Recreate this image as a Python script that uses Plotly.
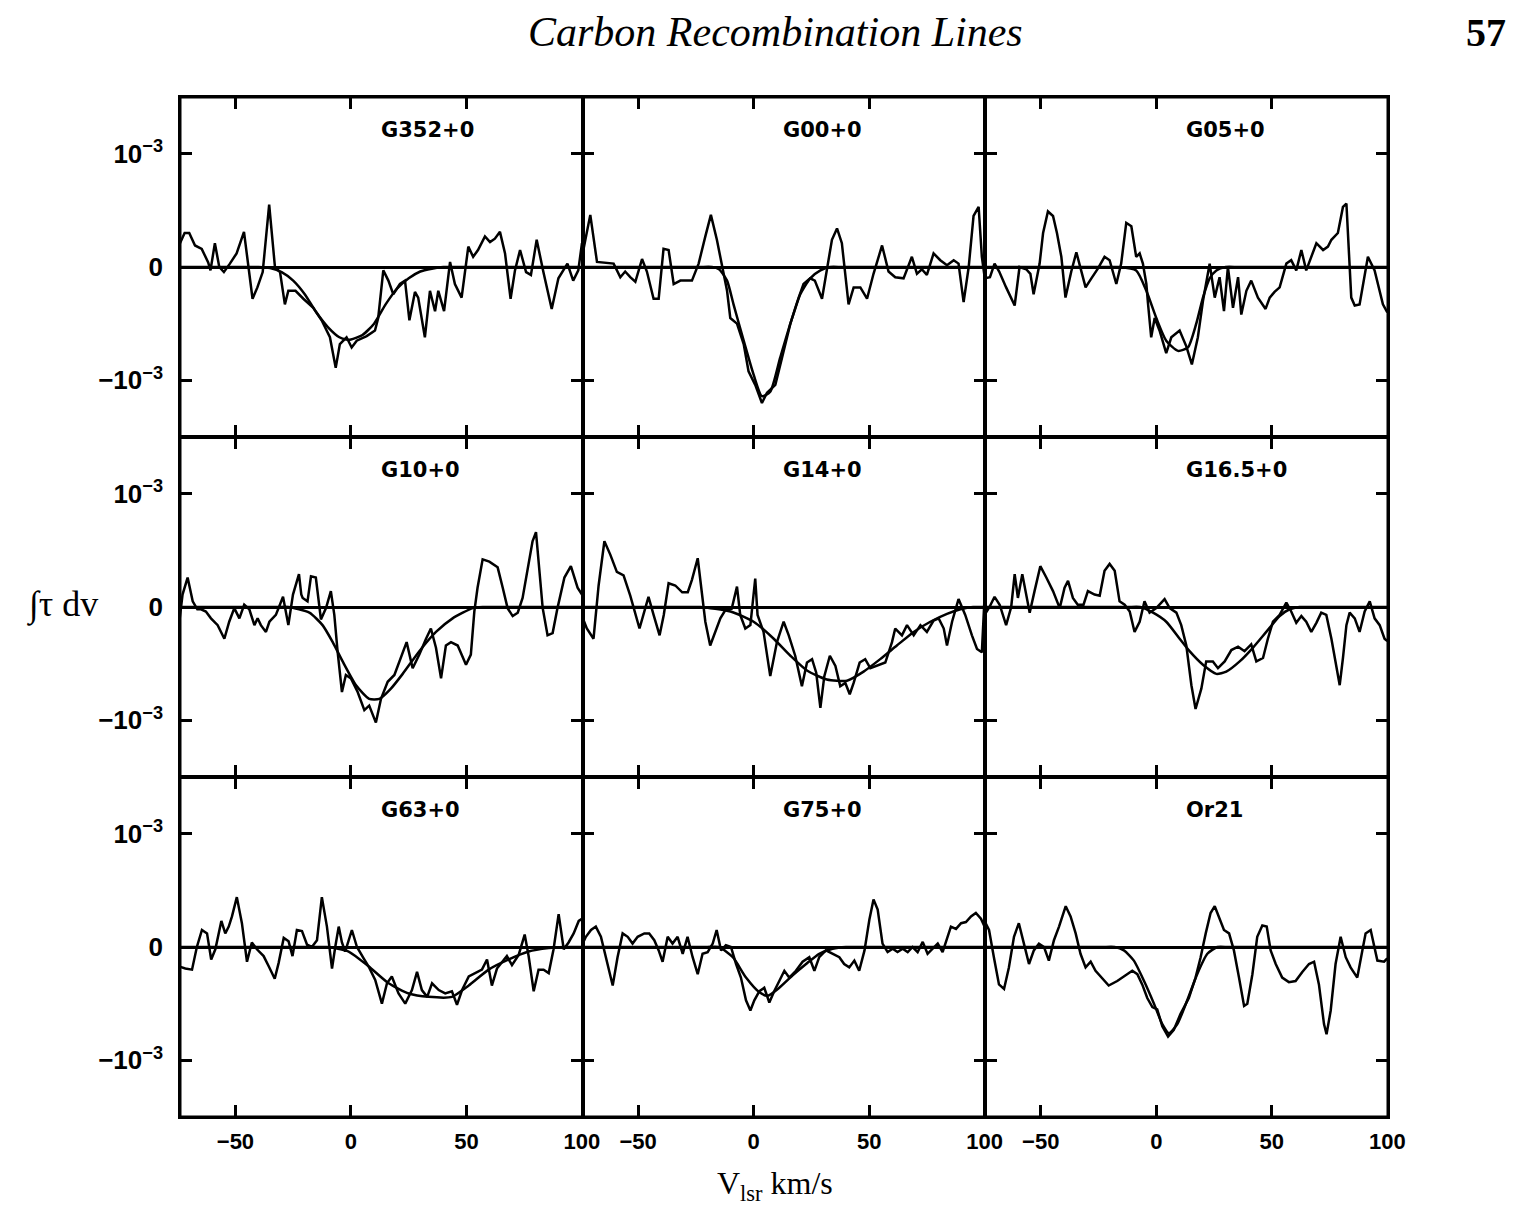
import plotly.graph_objects as go
from plotly.subplots import make_subplots

# ---------------- data (tau in units of 1e-3, velocity in km/s) ----------------
names = ["G352+0", "G00+0", "G05+0", "G10+0", "G14+0", "G16.5+0", "G63+0", "G75+0", "Or21"]

g352_v = [-74, -72, -70, -67.5, -64.6, -61.8, -60.8, -58.9, -57, -55, -52.4, -49.5, -46.3, -42.6, -40.5, -38.2, -35.4, -32.9, -30.7, -28.6, -27.1, -24, -20.6, -16.3, -12.7, -9.1, -6.6, -4.8, -1.9, 0.3, 2.5, 6.8, 10.4, 11.8, 14, 16.2, 18.3, 21.2, 23.4, 25.3, 27.7, 29.1, 32, 34.2, 36.4, 37.8, 40.3, 42.9, 45, 47.9, 50.8, 52.9, 55, 58, 60.2, 62.3, 64.5, 66.7, 69.1, 71, 73.2, 75.8, 77.9, 80.4, 83.3, 86.9, 89.8, 93.7, 96.2, 98.4, 100]
g352_tau = [0.21, 0.30, 0.30, 0.19, 0.16, 0.04, -0.03, 0.21, 0.0, -0.045, 0.03, 0.12, 0.31, -0.28, -0.18, -0.045, 0.55, 0.0, -0.045, -0.33, -0.21, -0.21, -0.28, -0.36, -0.47, -0.62, -0.89, -0.68, -0.62, -0.71, -0.65, -0.61, -0.56, -0.45, -0.03, -0.12, -0.24, -0.15, -0.12, -0.47, -0.22, -0.27, -0.62, -0.21, -0.39, -0.21, -0.39, 0.045, -0.15, -0.27, 0.18, 0.09, 0.15, 0.27, 0.22, 0.25, 0.31, 0.12, -0.28, -0.03, 0.15, -0.045, -0.07, 0.24, -0.045, -0.37, -0.10, 0.03, -0.12, -0.03, 0.21]
g352_fit_v = [-74, -50, -45, -40, -35, -30, -25, -20, -15, -10, -5, -2, 0, 5, 10, 15, 20, 25, 30, 35, 40, 45, 50, 100]
g352_fit = [0, 0, 0, 0, -0.01, -0.045, -0.12, -0.24, -0.40, -0.53, -0.62, -0.64, -0.64, -0.60, -0.50, -0.33, -0.19, -0.10, -0.04, -0.015, 0, 0, 0, 0]

g00_v = [-74, -70.7, -67.8, -64.9, -60.6, -57.7, -55.6, -53.4, -51.2, -48.3, -46.2, -43.3, -41.1, -39, -36.8, -34.6, -31.7, -26.7, -23.8, -20.9, -18.5, -15.9, -13.7, -11.5, -10.1, -7.2, -4.3, -2.2, 0.7, 3.6, 5.8, 9.4, 12.3, 15.9, 19.5, 21.6, 24.5, 26.5, 29.6, 31.7, 33.9, 36.1, 38.2, 41.1, 43.3, 46.2, 49.1, 51.9, 55.6, 58.4, 61.3, 64.9, 68.5, 70.7, 72.8, 75, 77.9, 80.8, 83.7, 86.6, 88.7, 90.9, 93.1, 95.2, 97.4, 98.8, 100]
g00_tau = [0.12, 0.46, 0.045, 0.04, 0.03, -0.09, -0.04, -0.09, -0.13, 0.07, -0.04, -0.28, -0.28, 0.16, 0.15, -0.15, -0.12, -0.12, 0.03, 0.27, 0.46, 0.24, 0.03, -0.21, -0.45, -0.5, -0.68, -0.92, -1.04, -1.20, -1.11, -1.04, -0.80, -0.50, -0.27, -0.15, -0.10, -0.12, -0.28, -0.03, 0.24, 0.34, 0.21, -0.33, -0.18, -0.18, -0.28, -0.06, 0.19, -0.04, -0.09, -0.10, 0.09, -0.06, -0.02, -0.07, 0.12, 0.06, 0.015, 0.06, 0.03, -0.31, 0.0, 0.45, 0.53, 0.09, -0.09]
g00_fit_v = [-74, -28, -23, -18, -15, -11.5, -8.7, -4.3, 0, 3.6, 7.2, 11.5, 15.9, 20.2, 24.5, 28.9, 33, 38, 43, 100]
g00_fit = [0, 0, 0, 0, -0.02, -0.12, -0.33, -0.65, -0.95, -1.14, -1.10, -0.80, -0.50, -0.24, -0.10, -0.03, 0, 0, 0, 0]

g05_v = [-74.3, -72, -70, -68, -65, -61.3, -59.2, -56.3, -54.5, -53.1, -50.5, -49, -46.9, -44.7, -43, -41.1, -39.3, -36.8, -34.6, -32.5, -30.6, -28.1, -25.3, -22.4, -20.2, -17.3, -15.2, -13, -10.8, -8.7, -7.2, -5.8, -4.3, -3.6, -2.2, -0.7, 1.4, 4.3, 6.5, 10.1, 13, 15.4, 18, 20.2, 23.1, 25.3, 27.4, 29.3, 31, 33.2, 35.4, 36.8, 39, 41.1, 44, 47.3, 49.1, 51.2, 53.4, 56.3, 58.4, 60.6, 62.8, 64.9, 67.1, 69.3, 72.2, 74.3, 75.8, 78.6, 80.8, 82.3, 84.4, 85.9, 88, 90.2, 91.6, 94.5, 96.7, 98.1, 100]
g05_tau = [-0.10, -0.09, 0.03, -0.04, -0.18, -0.34, 0.0, -0.02, -0.06, -0.24, 0.03, 0.30, 0.49, 0.45, 0.30, 0.09, -0.27, -0.04, 0.13, -0.03, -0.18, -0.10, -0.015, 0.09, 0.06, -0.15, 0.03, 0.39, 0.36, 0.09, 0.12, 0.03, -0.15, -0.32, -0.62, -0.45, -0.56, -0.76, -0.62, -0.56, -0.70, -0.86, -0.62, -0.30, 0.03, -0.27, -0.09, -0.39, 0.0, -0.36, -0.09, -0.42, -0.21, -0.12, -0.27, -0.37, -0.27, -0.22, -0.18, 0.03, 0.06, -0.03, 0.15, -0.03, 0.09, 0.21, 0.15, 0.18, 0.24, 0.30, 0.53, 0.56, -0.27, -0.34, -0.33, -0.09, 0.09, -0.03, -0.21, -0.33, -0.40]
g05_fit_v = [-74, -26, -21, -16, -8.7, -4.3, 0, 4.3, 9.4, 13.7, 17.3, 20.2, 23.1, 26, 30, 35, 40, 100]
g05_fit = [0, 0, 0, 0, -0.03, -0.21, -0.45, -0.65, -0.74, -0.71, -0.50, -0.27, -0.10, -0.03, 0, 0, 0, 0]

g10_v = [-74.3, -72.9, -70.7, -68.5, -66.5, -64.9, -62.8, -60.6, -57.7, -54.8, -52.7, -50.5, -48.3, -46.2, -44, -41.8, -40.4, -39, -36.8, -35.3, -32.5, -29.4, -27.1, -25.1, -22.5, -21.5, -20.9, -18.8, -17.3, -15.2, -13, -10.8, -8.7, -7.2, -5.8, -3.9, -2.2, 0, 2.9, 5.8, 7.9, 10.8, 13, 15.9, 18.8, 20.9, 24.1, 26.7, 29.6, 32.5, 34.6, 36.8, 39, 41.1, 43.3, 46.2, 49.8, 51.9, 53.4, 54.8, 57, 59.9, 63.5, 65.7, 67.8, 70, 72.2, 74.3, 76.5, 78.6, 80.1, 81.5, 83, 85.1, 87.3, 89.4, 92.4, 95.2, 98.1, 100]
g10_tau = [-0.13, 0.11, 0.26, 0.05, -0.02, -0.02, -0.04, -0.10, -0.16, -0.28, -0.13, -0.01, -0.10, 0.02, -0.02, -0.16, -0.10, -0.16, -0.22, -0.13, -0.07, 0.09, -0.16, 0.11, 0.29, 0.11, 0.08, 0.05, 0.27, 0.26, -0.11, -0.01, 0.14, -0.07, -0.39, -0.75, -0.60, -0.63, -0.75, -0.91, -0.87, -1.02, -0.81, -0.66, -0.60, -0.48, -0.31, -0.54, -0.42, -0.28, -0.19, -0.36, -0.63, -0.34, -0.31, -0.34, -0.51, -0.42, -0.04, 0.17, 0.42, 0.40, 0.35, 0.17, -0.01, -0.08, -0.05, 0.08, 0.35, 0.58, 0.66, 0.35, -0.01, -0.25, -0.23, -0.01, 0.26, 0.36, 0.17, 0.11]
g10_fit_v = [-74, -37, -32, -27, -18, -12.3, -7.9, -3.6, 2.2, 7.9, 12.3, 17.3, 22.4, 29.6, 36.8, 44, 52.7, 57, 62, 67, 100]
g10_fit = [0, 0, 0, 0, -0.05, -0.16, -0.31, -0.48, -0.69, -0.81, -0.81, -0.72, -0.59, -0.39, -0.22, -0.10, -0.01, 0, 0, 0, 0]

g14_v = [-74.5, -72.2, -69.3, -67.1, -64.6, -62, -59.2, -56.3, -53.4, -51.2, -49.4, -46.9, -45.5, -43.3, -40.7, -38.9, -36.8, -33.9, -30.9, -28.5, -26.7, -24.2, -22.4, -20.9, -18.8, -16.6, -14.4, -12.3, -9.5, -7.2, -5.8, -3.6, -1.4, 0.7, 1.7, 4.3, 7.2, 10.1, 13, 15.2, 18, 20.9, 23.1, 25.3, 27.1, 28.9, 30.6, 33, 35.4, 37.5, 39.7, 41.6, 43.3, 45.9, 48.3, 50.5, 53.4, 57, 59.9, 61.3, 64.2, 66.4, 69.3, 72.2, 75, 77.9, 80.1, 82.3, 83.7, 85.9, 88.7, 91.6, 94.5, 96.7, 98.8, 100]
g14_tau = [-0.07, -0.19, -0.28, 0.19, 0.58, 0.46, 0.31, 0.28, 0.10, -0.07, -0.19, -0.01, 0.09, -0.07, -0.25, -0.07, 0.21, 0.19, 0.13, 0.13, 0.24, 0.43, 0.10, -0.13, -0.34, -0.22, -0.10, -0.03, -0.015, 0.18, -0.07, -0.19, -0.16, 0.25, -0.07, -0.22, -0.61, -0.31, -0.13, -0.25, -0.43, -0.70, -0.49, -0.46, -0.58, -0.89, -0.61, -0.43, -0.52, -0.70, -0.67, -0.77, -0.67, -0.49, -0.46, -0.54, -0.52, -0.49, -0.31, -0.19, -0.25, -0.16, -0.25, -0.16, -0.22, -0.12, -0.10, -0.19, -0.34, -0.13, 0.07, -0.07, -0.25, -0.37, -0.40, 0.10]
g14_fit_v = [-74, -33, -28, -23, -10, 0, 8.7, 15.9, 23.1, 31.7, 40.4, 47.6, 54.8, 62, 69.3, 76.5, 83.7, 89.5, 95, 100]
g14_fit = [0, 0, 0, 0, -0.04, -0.13, -0.28, -0.43, -0.56, -0.64, -0.65, -0.57, -0.46, -0.34, -0.22, -0.13, -0.06, -0.02, 0, 0]

g165_v = [-74.3, -72.2, -70, -67.8, -65, -62.8, -61.3, -59.9, -58, -56.3, -54.8, -52.7, -50.2, -47.6, -44.7, -41.8, -39.7, -38.2, -36.1, -34, -31.5, -29.6, -26.7, -24.5, -22.4, -20.2, -18, -15.9, -13.7, -11.5, -9.4, -7.2, -5.1, -2.9, 0, 3.6, 5.8, 8.7, 10.8, 13, 15.2, 17, 19.5, 21.6, 24.5, 26.7, 29.6, 32.5, 35.4, 38.2, 41.1, 43.3, 46.2, 48.3, 50.5, 53.4, 56.3, 58.4, 60.6, 62.8, 64.9, 67.1, 69.3, 71.4, 73.6, 75.8, 77.9, 79.4, 80.8, 82.3, 83.7, 85.9, 88, 90.2, 92.4, 94.5, 96.7, 98.8, 100]
g165_tau = [-0.07, 0.0, 0.09, 0.02, -0.16, 0.0, 0.29, 0.08, 0.29, 0.12, -0.05, 0.14, 0.36, 0.26, 0.14, -0.01, 0.17, 0.23, 0.08, 0.02, 0.02, 0.14, 0.11, 0.10, 0.32, 0.38, 0.32, 0.05, 0.02, -0.04, -0.22, -0.13, 0.05, -0.05, -0.01, 0.07, -0.01, -0.05, -0.16, -0.34, -0.69, -0.90, -0.72, -0.48, -0.48, -0.54, -0.48, -0.38, -0.35, -0.39, -0.33, -0.48, -0.45, -0.28, -0.13, -0.07, 0.04, -0.04, -0.14, -0.08, -0.13, -0.22, -0.14, -0.05, -0.07, -0.28, -0.51, -0.69, -0.45, -0.16, -0.05, -0.10, -0.22, -0.04, 0.05, -0.10, -0.16, -0.28, -0.30]
g165_fit_v = [-74, -17, -12, -7, -1.4, 4.3, 10.1, 14.4, 20.2, 26, 30.3, 36.1, 41.8, 47.6, 53.4, 57.7, 62, 67, 72, 100]
g165_fit = [0, 0, 0, 0, -0.05, -0.13, -0.28, -0.39, -0.51, -0.59, -0.57, -0.48, -0.36, -0.22, -0.08, -0.02, 0, 0, 0, 0]

g63_v = [-74.6, -71.7, -68.8, -66.7, -64.5, -62.3, -60.5, -58.7, -56.1, -54.4, -52.9, -51.5, -49.4, -47.2, -45, -42.9, -40.7, -37.8, -35.6, -33, -31.3, -29.1, -27, -25.3, -23.4, -21.2, -19, -16.9, -14.7, -12.6, -10.4, -8.2, -6.8, -5.3, -3.9, -2.5, 0.4, 2.6, 5.5, 7.6, 10.5, 13.4, 15.6, 17.7, 20.6, 23.5, 26.4, 28.6, 30.7, 33, 35.1, 38, 40.8, 43.7, 45.9, 48.1, 51, 53.8, 56.7, 58.9, 61, 63.2, 65.4, 67.5, 69.7, 72.6, 75.2, 76.9, 79.1, 81.2, 83.4, 85.6, 87.7, 89.9, 92.1, 94.2, 96.4, 98.6, 100]
g63_tau = [-0.17, -0.19, -0.20, 0.0, 0.15, 0.12, -0.11, -0.02, 0.23, 0.12, 0.18, 0.27, 0.44, 0.21, -0.13, 0.04, -0.02, -0.08, -0.17, -0.28, -0.14, 0.08, 0.05, -0.08, 0.15, 0.14, 0.02, 0.0, 0.06, 0.44, 0.18, -0.19, 0.0, 0.18, 0.04, -0.04, 0.15, 0.0, -0.10, -0.17, -0.29, -0.50, -0.32, -0.26, -0.41, -0.50, -0.38, -0.22, -0.38, -0.44, -0.32, -0.38, -0.41, -0.39, -0.51, -0.38, -0.26, -0.23, -0.20, -0.11, -0.34, -0.19, -0.13, -0.08, -0.16, -0.07, 0.11, -0.08, -0.39, -0.20, -0.20, -0.23, -0.02, 0.29, -0.02, 0.04, 0.12, 0.23, 0.25]
g63_fit_v = [-74, -20, -15, -10, -1, 7.6, 16.3, 25, 33.6, 43.7, 51, 59.6, 68.3, 76.9, 85.6, 92, 100]
g63_fit = [0, 0, 0, 0, -0.04, -0.17, -0.32, -0.41, -0.44, -0.44, -0.34, -0.20, -0.11, -0.04, -0.01, 0, 0]

g75_v = [-74.7, -72.6, -70.4, -68.3, -66.1, -63.9, -61, -58.9, -56.7, -54.5, -52.4, -50.2, -47.3, -45.2, -43, -41.1, -39.4, -37.2, -35.1, -32.9, -30.7, -28.6, -26.4, -24.2, -22.1, -19.9, -17.7, -16, -14.1, -12, -9.8, -7.6, -5.5, -3.3, -1.4, 0.3, 2.5, 4.6, 6.8, 8.9, 11.1, 13.3, 15.4, 18.3, 21.2, 24.1, 26.3, 28.4, 31.3, 34.2, 37.1, 39.2, 41.4, 43.6, 45.7, 48, 50.1, 51.9, 53.7, 55.8, 58, 60.2, 62.3, 64.5, 66.7, 68.8, 71, 73.2, 75.3, 77.5, 79.7, 81.8, 84, 85.4, 87.6, 89.8, 91.9, 94.1, 96.2, 98.4, 100]
g75_tau = [0.0, 0.09, 0.15, 0.18, 0.09, -0.09, -0.34, -0.09, 0.12, 0.09, 0.03, 0.09, 0.12, 0.12, 0.06, -0.03, -0.13, 0.09, 0.03, 0.09, -0.06, 0.09, -0.09, -0.24, -0.06, -0.045, 0.03, 0.15, -0.03, 0.015, 0.0, -0.15, -0.27, -0.47, -0.56, -0.47, -0.39, -0.36, -0.49, -0.39, -0.30, -0.21, -0.27, -0.21, -0.13, -0.09, -0.21, -0.09, -0.03, -0.06, -0.09, -0.15, -0.18, -0.12, -0.21, -0.03, 0.24, 0.42, 0.33, 0.03, -0.045, -0.015, -0.045, -0.015, -0.045, 0.0, -0.045, 0.045, -0.06, -0.015, 0.03, -0.045, 0.09, 0.18, 0.16, 0.21, 0.22, 0.27, 0.30, 0.25, 0.18]
g75_fit_v = [-74, -25, -20, -15, -9, -3.3, 2.5, 6.1, 11.1, 16.9, 22.7, 28.4, 34.2, 40, 45, 50, 100]
g75_fit = [0, 0, 0, 0, -0.09, -0.27, -0.40, -0.43, -0.36, -0.25, -0.15, -0.06, -0.015, 0, 0, 0, 0]

or21_v = [-74.6, -72.4, -70.3, -68.1, -65.9, -63.8, -61.6, -59.5, -57.3, -55.1, -53, -50.8, -48.6, -46.5, -44.3, -42.1, -39.2, -37.1, -34.9, -32.8, -30.6, -28.4, -26.3, -23.4, -20.6, -16.9, -13.3, -10.4, -8.2, -6.1, -3.9, -1.7, 0.4, 2.6, 5.1, 7.6, 10.5, 14.1, 17, 19.2, 21.4, 23.5, 25.3, 27.1, 29.3, 31.5, 33.6, 35.8, 38, 39.4, 41.6, 43.7, 45.9, 47.8, 49.5, 51.7, 54.5, 57.4, 60.3, 63.2, 66.1, 68.3, 70.4, 72.6, 73.7, 75.5, 77.6, 79.8, 82, 84.1, 87, 89.2, 90.6, 92.8, 94.9, 95.7, 98.6, 100]
or21_tau = [0.24, 0.15, -0.09, -0.33, -0.37, -0.18, 0.09, 0.21, 0.03, -0.15, -0.03, 0.03, 0.0, -0.12, 0.06, 0.18, 0.36, 0.27, 0.12, -0.06, -0.18, -0.13, -0.21, -0.28, -0.34, -0.30, -0.25, -0.21, -0.24, -0.33, -0.45, -0.53, -0.55, -0.70, -0.79, -0.73, -0.59, -0.45, -0.27, -0.09, 0.12, 0.30, 0.36, 0.27, 0.15, 0.12, -0.03, -0.27, -0.52, -0.50, -0.24, 0.09, 0.19, 0.18, -0.03, -0.15, -0.27, -0.31, -0.30, -0.22, -0.15, -0.13, -0.33, -0.68, -0.77, -0.56, -0.15, 0.09, -0.09, -0.18, -0.27, -0.03, 0.12, 0.15, -0.03, -0.12, -0.13, -0.10]
or21_fit_v = [-74, -28, -23, -18, -14, -9.7, -5.3, -1, 2.6, 5.5, 9.1, 13.4, 17.7, 22.1, 26.4, 31, 36, 100]
or21_fit = [0, 0, 0, 0, -0.03, -0.12, -0.30, -0.50, -0.68, -0.76, -0.68, -0.47, -0.24, -0.06, 0, 0, 0, 0]

x_tickvals = [-50, 0, 50, 100]
x_ticktext = ["\u221250", "0", "50", "100"]
y_tickvals = [-1, 0, 1]
y_ticktext = ["\u221210<sup>\u22123</sup>", "0", "10<sup>\u22123</sup>"]

panels = [
    (g352_v, g352_tau, g352_fit_v, g352_fit),
    (g00_v, g00_tau, g00_fit_v, g00_fit),
    (g05_v, g05_tau, g05_fit_v, g05_fit),
    (g10_v, g10_tau, g10_fit_v, g10_fit),
    (g14_v, g14_tau, g14_fit_v, g14_fit),
    (g165_v, g165_tau, g165_fit_v, g165_fit),
    (g63_v, g63_tau, g63_fit_v, g63_fit),
    (g75_v, g75_tau, g75_fit_v, g75_fit),
    (or21_v, or21_tau, or21_fit_v, or21_fit),
]

# ---------------- figure ----------------
W, H = 1515, 1205
ML, MR, MT, MB = 180, 127, 97, 88
fig = make_subplots(rows=3, cols=3, horizontal_spacing=0, vertical_spacing=0)

x_tick_font = dict(family="Liberation Sans, Arial, sans-serif", size=22, color="black", weight="bold")
y_tick_font = dict(family="Liberation Sans, Arial, sans-serif", size=26, color="black", weight="bold")

for i, (v, t, fv, ft) in enumerate(panels):
    r, c = i // 3 + 1, i % 3 + 1
    fig.add_trace(go.Scatter(x=fv, y=ft, mode="lines",
                             line=dict(color="black", width=2.5, shape="spline", smoothing=0.6),
                             hoverinfo="skip", showlegend=False), row=r, col=c)
    fig.add_trace(go.Scatter(x=v, y=t, mode="lines",
                             line=dict(color="black", width=2.5),
                             showlegend=False), row=r, col=c)
    fig.update_xaxes(range=[-74, 100.3], tickvals=x_tickvals, ticktext=x_ticktext,
                     ticks="inside", ticklen=12, tickwidth=2.5, tickcolor="black",
                     showline=True, linecolor="black", linewidth=1.5, mirror="allticks",
                     showgrid=False, zeroline=False, showticklabels=(r == 3),
                     tickfont=x_tick_font, ticklabelstandoff=4, row=r, col=c)
    fig.update_yaxes(range=[-1.5, 1.5], tickvals=y_tickvals, ticktext=y_ticktext,
                     ticks="inside", ticklen=12, tickwidth=2.5, tickcolor="black",
                     showline=True, linecolor="black", linewidth=1.5, mirror="allticks",
                     showgrid=False, zeroline=True, zerolinecolor="black", zerolinewidth=2.5,
                     showticklabels=(c == 1), tickfont=y_tick_font, ticklabelstandoff=10,
                     row=r, col=c)
    axn = "" if i == 0 else str(i + 1)
    fig.add_annotation(x=12, y=1.21, xref="x" + axn, yref="y" + axn, text=names[i],
                       showarrow=False, xanchor="left", yanchor="middle",
                       font=dict(family="DejaVu Sans, sans-serif", size=21, color="black",
                                 weight="bold"))

# outer frame
fig.add_shape(type="rect", xref="paper", yref="paper", x0=0, y0=0, x1=1, y1=1,
              line=dict(color="black", width=3), layer="above")


def px(xp):
    return (xp - ML) / (W - ML - MR)


def py(yp):
    return (H - MB - yp) / (H - MT - MB)


serif = "Liberation Serif, Times New Roman, serif"
fig.add_annotation(x=px(775), y=py(32), xref="paper", yref="paper",
                   text="<i>Carbon Recombination Lines</i>", showarrow=False,
                   xanchor="center", yanchor="middle",
                   font=dict(family=serif, size=42, color="black"))
fig.add_annotation(x=px(1486), y=py(32), xref="paper", yref="paper",
                   text="57", showarrow=False, xanchor="center", yanchor="middle",
                   font=dict(family=serif, size=40, color="black", weight="bold"))
fig.add_annotation(x=px(62), y=py(605), xref="paper", yref="paper",
                   text="\u222b\u03c4 dv", showarrow=False, xanchor="center", yanchor="middle",
                   font=dict(family=serif, size=36, color="black"))
fig.add_annotation(x=px(775), y=py(1185), xref="paper", yref="paper",
                   text="V<sub>lsr</sub> km/s", showarrow=False, xanchor="center", yanchor="middle",
                   font=dict(family=serif, size=32, color="black"))

fig.update_layout(width=W, height=H, margin=dict(l=ML, r=MR, t=MT, b=MB),
                  paper_bgcolor="white", plot_bgcolor="white", showlegend=False)

fig.write_html("out.html")
